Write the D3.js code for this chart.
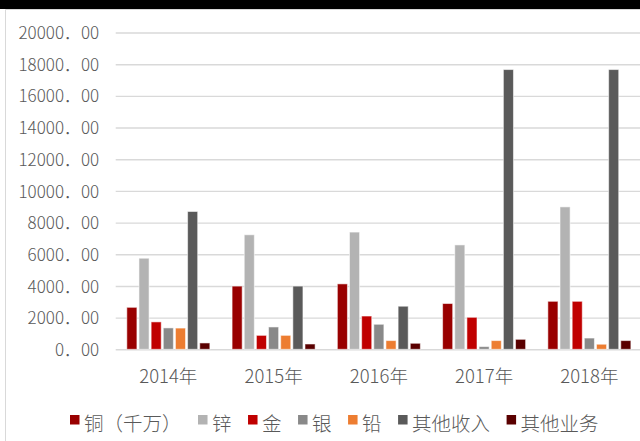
<!DOCTYPE html>
<html>
<head>
<meta charset="utf-8">
<script src="https://cdn.jsdelivr.net/npm/d3@7"></script>
<style>
  html, body { margin: 0; padding: 0; background: #fff; }
  svg { display: block; }
  text { font-family: "Noto Sans CJK SC", "Noto Sans", sans-serif; font-weight: 300; fill: #595959; }
</style>
</head>
<body>
<svg id="chart" width="640" height="441"></svg>
<script>
// Revenue by product line, 2014–2018
const years = ["2014年", "2015年", "2016年", "2017年", "2018年"];
const seriesNames = ["铜（千万）", "锌", "金", "银", "铅", "其他收入", "其他业务"];
const copper      = [2650, 3990, 4130, 2890, 3030];
const zinc        = [5750, 7230, 7400, 6590, 8990];
const gold        = [1730, 880, 2100, 2020, 3030];
const silver      = [1350, 1410, 1580, 170, 710];
const lead        = [1340, 880, 550, 550, 320];
const otherIncome = [8700, 3990, 2720, 17660, 17660];
const otherBiz    = [400, 335, 380, 630, 550];
const yTicks = [0, 2000, 4000, 6000, 8000, 10000, 12000, 14000, 16000, 18000, 20000];

const seriesValues = [copper, zinc, gold, silver, lead, otherIncome, otherBiz];
const colors = ["#990000", "#b3b3b3", "#c00000", "#898989", "#ed7d31", "#5a5a5a", "#5a0000"];

const svg = d3.select("#chart");
const W = 640, H = 441;

// dark strip along the top and the framed panel below it
svg.append("rect").attr("x", 0).attr("y", 0).attr("width", W).attr("height", 9).attr("fill", "#000");
svg.append("path")
  .attr("d", `M5.5,${H} V9.5 H${W}`)
  .attr("fill", "none").attr("stroke", "#d9d9d9").attr("stroke-width", 1);

const plotLeft = 115.7, plotRight = 642;
const x0 = d3.scaleBand().domain(years).range([plotLeft, plotRight]).padding(0);
const x1 = d3.scaleBand().domain(seriesNames).range([0, x0.bandwidth()])
  .paddingInner(0.17).paddingOuter(0.915);
const y = d3.scaleLinear().domain([0, 20000]).range([349.3, 32.5]);

// horizontal gridlines
const yAxis = d3.axisLeft(y).tickValues(yTicks)
  .tickSize(-(W - plotLeft)).tickPadding(16)
  .tickFormat(d => d3.format(".2f")(d).replace(".", "．"));
const gy = svg.append("g").attr("transform", `translate(${plotLeft},0)`).call(yAxis);
gy.select(".domain").remove();
gy.selectAll(".tick line").attr("stroke", "#d9d9d9").attr("stroke-width", 1.4);
gy.selectAll(".tick text").attr("font-size", 17)
  .attr("fill", "#595959").attr("x", -16.5).attr("dy", "0.36em");

// grouped bars
const groups = svg.append("g").selectAll("g")
  .data(years).join("g")
  .attr("transform", d => `translate(${x0(d)},0)`);
groups.selectAll("rect")
  .data((yr, i) => seriesNames.map((s, k) => ({ s, k, v: seriesValues[k][i] })))
  .join("rect")
  .attr("x", d => x1(d.s))
  .attr("width", x1.bandwidth())
  .attr("y", d => y(d.v))
  .attr("height", d => y(0) - y(d.v))
  .attr("fill", d => colors[d.k])
  .attr("stroke", "#ffffff").attr("stroke-opacity", 0.55).attr("stroke-width", 1);

// category axis
const xAxis = d3.axisBottom(x0).tickSize(0).tickPadding(0);
const gx = svg.append("g").attr("transform", `translate(0,${y(0)})`).call(xAxis);
gx.select(".domain").remove();
gx.selectAll(".tick text").attr("font-size", 18.5).attr("fill", "#595959")
  .attr("y", 34).attr("dy", 0);

// legend
const legend = svg.append("g").attr("transform", "translate(70,0)");
let cx = 0;
seriesNames.forEach((name, k) => {
  const item = legend.append("g").attr("transform", `translate(${cx},0)`);
  item.append("rect").attr("x", 0).attr("y", 415).attr("width", 9.5).attr("height", 9.5)
    .attr("fill", colors[k]);
  const t = item.append("text").attr("x", 14).attr("y", 430.5)
    .attr("font-size", 19.5).attr("fill", "#595959").text(name);
  cx += 14 + t.node().getComputedTextLength() + 16.5;
});
</script>
</body>
</html>
